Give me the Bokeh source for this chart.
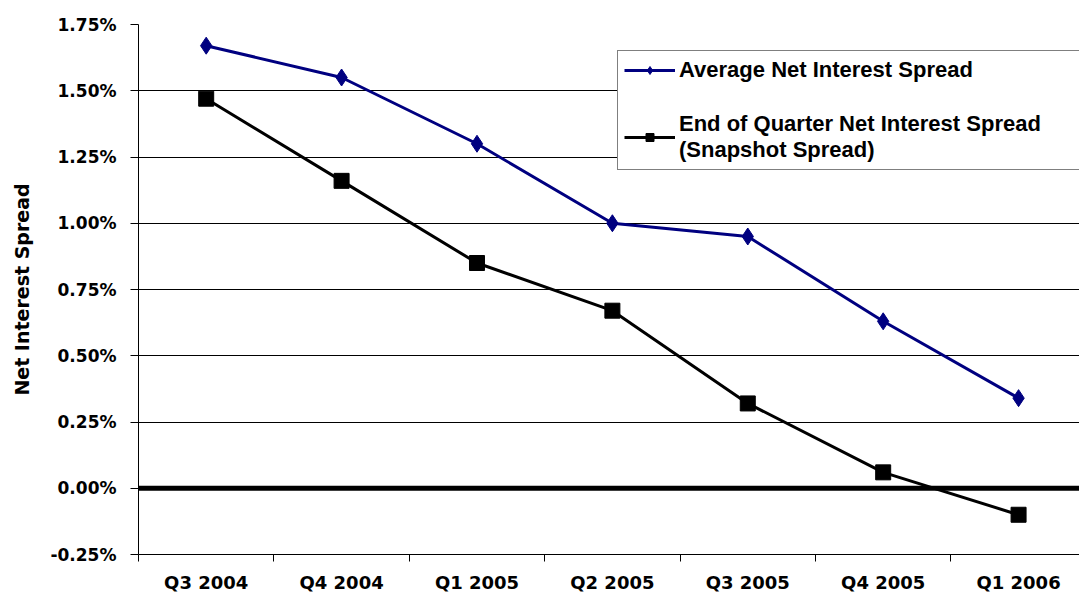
from bokeh.plotting import figure
from bokeh.models import (Range1d, FixedTicker, PrintfTickFormatter, Span, Legend, LegendItem)
from bokeh.embed import file_html
from bokeh.resources import INLINE

quarters = ["Q3 2004", "Q4 2004", "Q1 2005", "Q2 2005", "Q3 2005", "Q4 2005", "Q1 2006"]
average_spread = [1.67, 1.55, 1.30, 1.00, 0.95, 0.63, 0.34]
snapshot_spread = [1.47, 1.16, 0.85, 0.67, 0.32, 0.06, -0.10]
y_ticks = [-0.25, 0.0, 0.25, 0.5, 0.75, 1.0, 1.25, 1.5, 1.75]
series_names = ["Average Net Interest Spread",
                "End of Quarter Net Interest Spread\n(Snapshot Spread)"]

xs = list(range(len(quarters)))
AXFONT = "DejaVu Sans"
LGFONT = "Liberation Sans"

p = figure(width=1079, height=603, output_backend="svg", toolbar_location=None,
           x_range=Range1d(-0.5, 6.45), y_range=Range1d(-0.25, 1.75),
           min_border_left=138, min_border_right=0, min_border_top=24, min_border_bottom=49)
p.outline_line_color = None
p.background_fill_color = "white"
p.border_fill_color = "white"

# y axis
p.yaxis.ticker = FixedTicker(ticks=y_ticks)
p.yaxis.formatter = PrintfTickFormatter(format="%.2f%%")
p.yaxis.major_tick_out = 8
p.yaxis.major_tick_in = 0
p.yaxis.minor_tick_out = 0
p.yaxis.axis_line_color = "black"
p.yaxis.major_label_text_font = AXFONT
p.yaxis.major_label_text_font_style = "bold"
p.yaxis.major_label_text_font_size = "17px"
p.yaxis.major_label_text_color = "black"
p.yaxis.major_label_standoff = 14
p.yaxis.axis_label = "Net Interest Spread"
p.yaxis.axis_label_text_font = AXFONT
p.yaxis.axis_label_text_font_style = "bold"
p.yaxis.axis_label_text_font_size = "19px"
p.yaxis.axis_label_text_color = "black"
p.yaxis.axis_label_standoff = 14

# x axis
p.xaxis.ticker = FixedTicker(ticks=xs, minor_ticks=[i - 0.5 for i in range(len(quarters))])
p.xaxis.major_label_overrides = {i: q for i, q in enumerate(quarters)}
p.xaxis.major_tick_out = 0
p.xaxis.major_tick_in = 0
p.xaxis.minor_tick_out = 7
p.xaxis.minor_tick_in = 0
p.xaxis.minor_tick_line_color = "black"
p.xaxis.axis_line_color = "black"
p.xaxis.major_label_text_font = AXFONT
p.xaxis.major_label_text_font_style = "bold"
p.xaxis.major_label_text_font_size = "18px"
p.xaxis.major_label_text_color = "black"
p.xaxis.major_label_standoff = 10

# grid
p.xgrid.grid_line_color = None
p.ygrid.ticker = FixedTicker(ticks=y_ticks)
p.ygrid.grid_line_color = "black"
p.ygrid.grid_line_width = 1

zero = Span(location=0, dimension="width", line_color="black", line_width=5)
p.add_layout(zero)

blue = "#000080"
l1 = p.line(xs, average_spread, line_color=blue, line_width=3)
s1 = p.scatter(xs, average_spread, marker="diamond", size=17, fill_color=blue, line_color=blue)
l2 = p.line(xs, snapshot_spread, line_color="black", line_width=3)
s2 = p.scatter(xs, snapshot_spread, marker="square", size=15, fill_color="black", line_color="black")

legend = Legend(items=[LegendItem(label=series_names[0], renderers=[l1, s1]),
                       LegendItem(label=series_names[1], renderers=[l2, s2])],
                location=(479, 384))
legend.label_text_font = LGFONT
legend.label_text_font_style = "bold"
legend.label_text_font_size = "22px"
legend.label_text_color = "black"
legend.label_standoff = 4
legend.label_width = 430
legend.glyph_width = 51
legend.glyph_height = 20
legend.spacing = 28
legend.padding = 6
legend.margin = 0
legend.border_line_color = "black"
legend.border_line_width = 1
legend.background_fill_color = "white"
legend.background_fill_alpha = 1
p.add_layout(legend)

open("out.html", "w").write(file_html(p, INLINE))
